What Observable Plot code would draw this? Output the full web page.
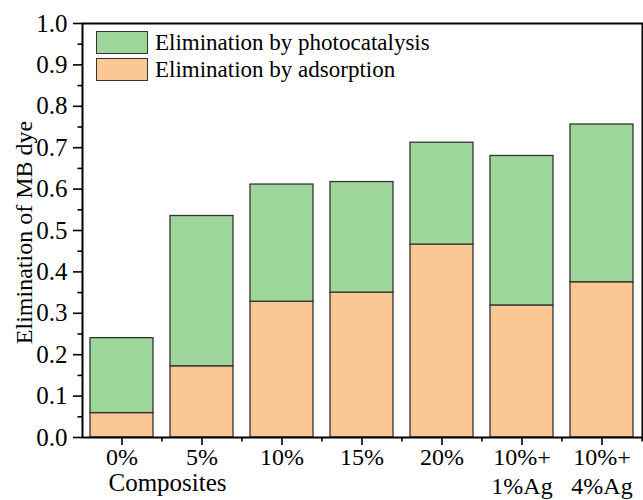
<!DOCTYPE html>
<html><head><meta charset="utf-8">
<script src="https://cdn.jsdelivr.net/npm/d3@7"></script>
<script src="https://cdn.jsdelivr.net/npm/@observablehq/plot@0.6"></script>
<style>
body{margin:0;background:#fff;}
#wrap{position:relative;width:643px;height:500px;overflow:hidden;}
#wrap svg, #wrap svg text{font-family:"Liberation Serif","Times New Roman",serif !important;}
.box{position:absolute;left:96px;width:50px;height:21px;border:1.5px solid #333;}
.lab{position:absolute;left:155px;font-family:"Liberation Serif","Times New Roman",serif;font-size:23px;line-height:1;white-space:nowrap;color:#000;}
</style></head><body><div id="wrap"></div>
<script>
const categories = ["0%", "5%", "10%", "15%", "20%", "10%+\n1%Ag", "10%+\n4%Ag"];
const adsorption = [0.059, 0.172, 0.328, 0.350, 0.466, 0.319, 0.375];
const total = [0.240, 0.535, 0.611, 0.617, 0.712, 0.680, 0.756];
const seriesNames = ["Elimination by photocatalysis", "Elimination by adsorption"];
const seriesColors = ["#9ed69c", "#fbc795"];
const yTicks = [0, 0.1, 0.2, 0.3, 0.4, 0.5, 0.6, 0.7, 0.8, 0.9, 1.0];
const yMinorTicks = [0.05, 0.15, 0.25, 0.35, 0.45, 0.55, 0.65, 0.75, 0.85, 0.95];
const yLabel = "Elimination of MB dye";
const xLabel = "Composites";

const rows = [];
categories.forEach((c, i) => {
  rows.push({cat: c, series: seriesNames[1], y1: 0, y2: adsorption[i]});
  rows.push({cat: c, series: seriesNames[0], y1: adsorption[i], y2: total[i]});
});
const fmt = d3.format(".1f");

const chart = Plot.plot({
  width: 643, height: 500,
  marginLeft: 82, marginRight: 1, marginTop: 23, marginBottom: 63,
  style: "font-family:'Liberation Serif','Times New Roman',serif;font-size:22px;color:#000;background:#fff;overflow:visible;",
  x: {domain: categories, paddingInner: 0.21, paddingOuter: 0.105},
  y: {domain: [0, 1]},
  color: {domain: seriesNames, range: seriesColors},
  marks: [
    Plot.barY(rows, {x: "cat", y1: "y1", y2: "y2", fill: "series", stroke: "#333", strokeWidth: 1.3}),
    Plot.axisY({ticks: yTicks, tickSize: 9, tickFormat: () => "", strokeWidth: 1.6, label: null}),
    Plot.axisY({ticks: yMinorTicks, tickSize: 4.5, tickFormat: () => "", strokeWidth: 1.6, label: null}),
    Plot.axisX({tickSize: 8, tickFormat: () => "", strokeWidth: 1.6, label: null}),
    Plot.axisX({tickSize: 4.5, dx: 40, tickFormat: () => "", strokeWidth: 1.6, label: null}),
    Plot.text(yTicks, {y: d => d, text: d => fmt(d), frameAnchor: "left", textAnchor: "end", dx: -15, fontSize: 25}),
    Plot.text(categories, {x: d => d, text: d => d, frameAnchor: "bottom", lineAnchor: "top", dy: 7, fontSize: 24, lineHeight: 1.2}),
    Plot.frame({stroke: "#000", strokeWidth: 2}),
    Plot.text([yLabel], {frameAnchor: "left", textAnchor: "middle", rotate: -90, dx: -58, dy: 2, fontSize: 24}),
    Plot.text([xLabel], {frameAnchor: "bottom-left", textAnchor: "middle", lineAnchor: "bottom", dx: 85, dy: 53, fontSize: 25})
  ]
});
const wrap = document.getElementById("wrap");
wrap.appendChild(chart);
// legend
const tops = [31, 58];
seriesNames.forEach((name, i) => {
  const b = document.createElement("div");
  b.className = "box"; b.style.top = tops[i] + "px"; b.style.background = seriesColors[i];
  wrap.appendChild(b);
  const t = document.createElement("div");
  t.className = "lab"; t.style.top = (tops[i] + 0) + "px"; t.textContent = name;
  wrap.appendChild(t);
});
</script></body></html>
